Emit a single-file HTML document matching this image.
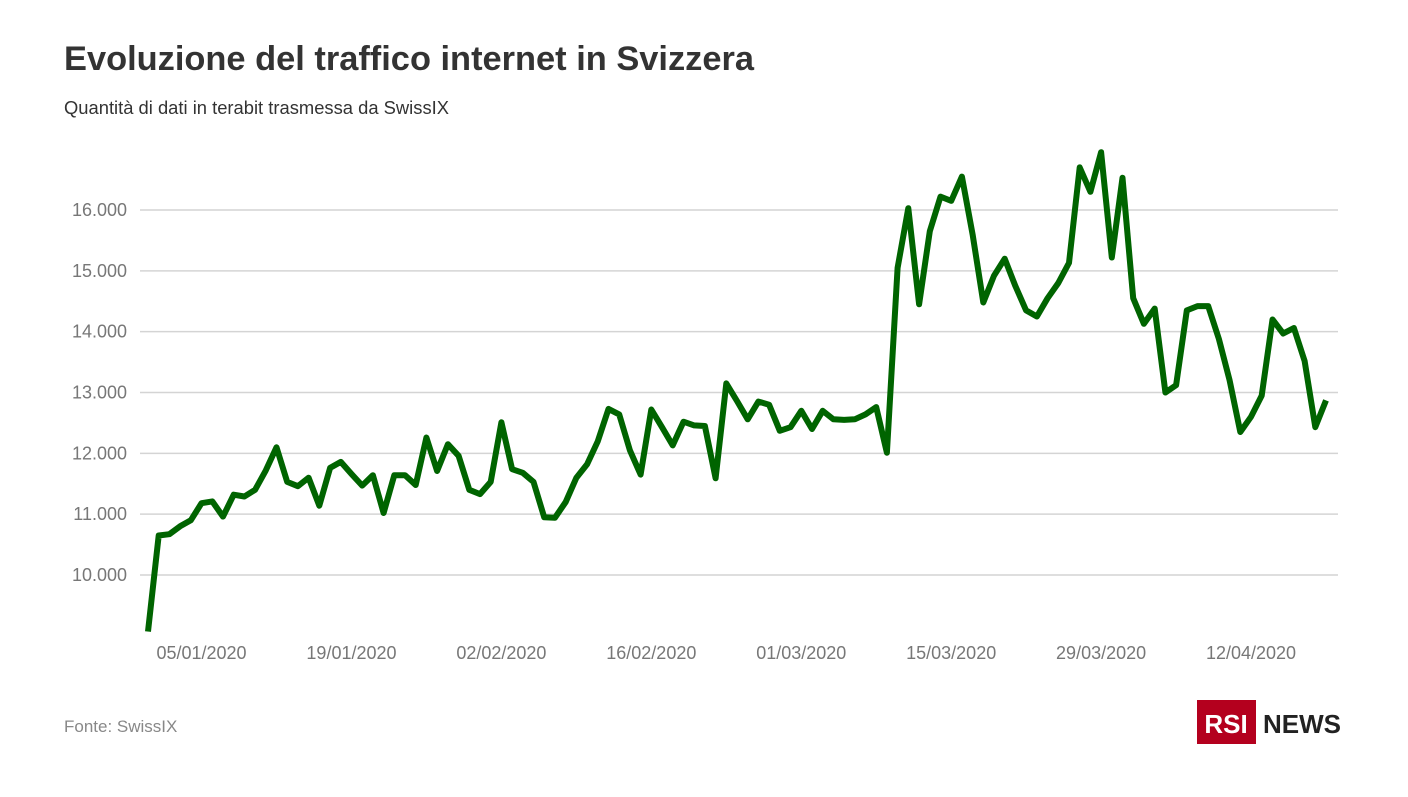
<!DOCTYPE html>
<html><head><meta charset="utf-8"><style>
body{margin:0;width:1408px;height:792px;background:#fff;font-family:"Liberation Sans",sans-serif;overflow:hidden}
svg text{font-family:"Liberation Sans",sans-serif}
</style></head><body>
<svg width="1408" height="792">
<text x="64" y="70" font-size="34" font-weight="bold" fill="#333" textLength="690" lengthAdjust="spacingAndGlyphs">Evoluzione del traffico internet in Svizzera</text>
<text x="64" y="114" font-size="18" fill="#333" textLength="385" lengthAdjust="spacingAndGlyphs">Quantità di dati in terabit trasmessa da SwissIX</text>
<g id="grid"></g><g id="yt"></g><g id="xt"></g>
<path id="line" fill="none" stroke="#006400" stroke-width="6" stroke-linejoin="round"/>
<text x="64" y="732" font-size="17" fill="#888">Fonte: SwissIX</text>
<rect x="1197" y="700" width="59" height="44" fill="#b4001e"/>
<text x="1226" y="733" font-size="26" font-weight="bold" fill="#fff" text-anchor="middle">RSI</text>
<text x="1263" y="733" font-size="26" font-weight="bold" fill="#222">NEWS</text>
</svg>
<script>
const values=[9.07,10.65,10.67,10.8,10.9,11.18,11.21,10.96,11.32,11.29,11.4,11.72,12.1,11.53,11.46,11.6,11.14,11.76,11.86,11.66,11.47,11.64,11.02,11.64,11.64,11.48,12.26,11.71,12.15,11.96,11.4,11.33,11.53,12.51,11.74,11.68,11.53,10.95,10.94,11.2,11.6,11.82,12.2,12.73,12.64,12.05,11.65,12.72,12.43,12.13,12.52,12.46,12.45,11.59,13.15,12.86,12.56,12.85,12.8,12.37,12.43,12.7,12.4,12.7,12.56,12.55,12.56,12.64,12.76,12.01,15.05,16.03,14.45,15.65,16.22,16.15,16.55,15.6,14.48,14.92,15.2,14.75,14.35,14.25,14.55,14.8,15.13,16.7,16.3,16.95,15.22,16.53,14.55,14.13,14.38,13.0,13.12,14.35,14.42,14.42,13.88,13.2,12.35,12.6,12.95,14.2,13.97,14.06,13.52,12.43,12.87];
const yTicks=[10,11,12,13,14,15,16];
const yTickLabels=["10.000","11.000","12.000","13.000","14.000","15.000","16.000"];
const xTickIndex=[5,19,33,47,61,75,89,103];
const xTickLabels=["05/01/2020","19/01/2020","02/02/2020","16/02/2020","01/03/2020","15/03/2020","29/03/2020","12/04/2020"];
const NS="http://www.w3.org/2000/svg";
const x=i=>148+i*(1326-148)/110;
const y=v=>575-(v-10)*60.83;
function mk(t,a,p,txt){const e=document.createElementNS(NS,t);for(const k in a)e.setAttribute(k,a[k]);if(txt)e.textContent=txt;document.getElementById(p).appendChild(e);return e;}
yTicks.forEach((v,i)=>{
 const g=mk('line',{x1:140,x2:1338,y1:y(v),y2:y(v),stroke:'#d4d4d4','stroke-width':1.5},'grid');
 
 
 const t=mk('text',{x:127,y:y(v)+6,'font-size':18,fill:'#777','text-anchor':'end'},'yt',yTickLabels[i]);
 
 
});
xTickIndex.forEach((d,i)=>{
 const t=mk('text',{x:x(d),y:659,'font-size':18,fill:'#777','text-anchor':'middle'},'xt',xTickLabels[i]);
 
 
});
document.getElementById('line').setAttribute('d',values.map((v,i)=>(i?'L':'M')+x(i).toFixed(1)+','+y(v).toFixed(1)).join(''));
</script>
</body></html>
